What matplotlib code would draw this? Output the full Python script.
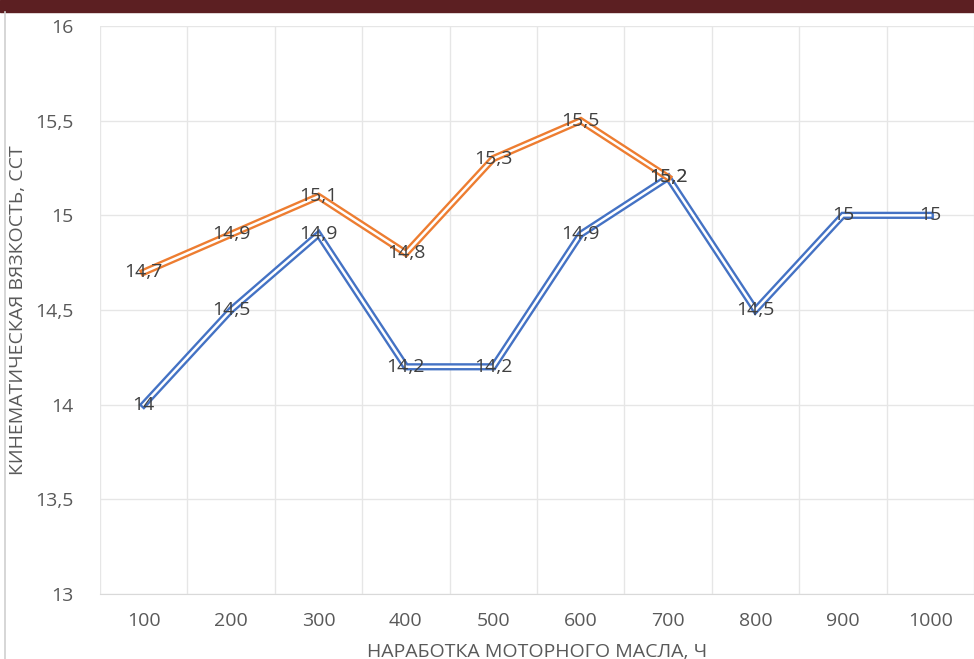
import matplotlib.pyplot as plt
from matplotlib.patches import Rectangle
from matplotlib.lines import Line2D

hours = [100, 200, 300, 400, 500, 600, 700, 800, 900, 1000]
visc_blue = [14, 14.5, 14.9, 14.2, 14.2, 14.9, 15.2, 14.5, 15, 15]
visc_orange = [14.7, 14.9, 15.1, 14.8, 15.3, 15.5, 15.2]
y_ticks = [13, 13.5, 14, 14.5, 15, 15.5, 16]

plt.rcParams['font.family'] = ['Open Sans', 'DejaVu Sans']

fig = plt.figure(figsize=(9.74, 6.59), dpi=100)
ax = fig.add_axes([100 / 974, 65 / 659, 874 / 974, 568 / 659])

# header band and frame edge of the embedded chart
fig.patches.append(Rectangle((0, 1 - 12 / 659), 1, 12 / 659, transform=fig.transFigure,
                             color='#5c1f22', zorder=0))
fig.add_artist(Line2D([5 / 974, 5 / 974], [0, 1 - 12 / 659], transform=fig.transFigure,
                      color='#d0d0d0', lw=1.2))

x_blue = list(range(len(visc_blue)))
x_orange = list(range(len(visc_orange)))

def double_line(xs, ys, color, z):
    ax.plot(xs, ys, color=color, lw=5.2, zorder=z, solid_joinstyle='miter')
    ax.plot(xs, ys, color='white', lw=1.8, zorder=z + 0.1, solid_joinstyle='miter')

double_line(x_blue, visc_blue, '#4472c4', 3)
double_line(x_orange, visc_orange, '#ed7d31', 4)

def fmt(v):
    return ('%g' % v).replace('.', ',')

for xs, ys in ((x_orange, visc_orange), (x_blue, visc_blue)):
    for x, y in zip(xs, ys):
        ax.text(x, y, fmt(y), ha='center', va='center', fontsize=14, color='#404040',
                zorder=6)

ax.set_xlim(-0.5, len(hours) - 0.5)
ax.set_ylim(13, 16)
ax.set_yticks(y_ticks)
ax.set_yticklabels([fmt(v) for v in y_ticks])
ax.set_xticks(x_blue)
ax.set_xticklabels([str(h) for h in hours])
ax.set_xticks([i - 0.5 for i in range(len(hours) + 1)], minor=True)
ax.tick_params(which='both', length=0, labelsize=14, colors='#595959')
ax.tick_params(axis='x', pad=13)
ax.tick_params(axis='y', pad=19)
ax.grid(True, which='minor', axis='x', color='#e6e6e6', lw=1)
ax.grid(True, which='major', axis='y', color='#e6e6e6', lw=1)
ax.grid(False, which='major', axis='x')
for s in ax.spines.values():
    s.set_visible(False)
ax.spines['bottom'].set_visible(True)
ax.spines['bottom'].set_color('#d9d9d9')

ax.set_xlabel('НАРАБОТКА МОТОРНОГО МАСЛА, Ч', fontsize=14, color='#595959', labelpad=9)
ax.set_ylabel('КИНЕМАТИЧЕСКАЯ ВЯЗКОСТЬ, СCT', fontsize=14, color='#595959')
ax.yaxis.set_label_coords(-0.083, 0.5)

fig.savefig('out.png', dpi=100)
